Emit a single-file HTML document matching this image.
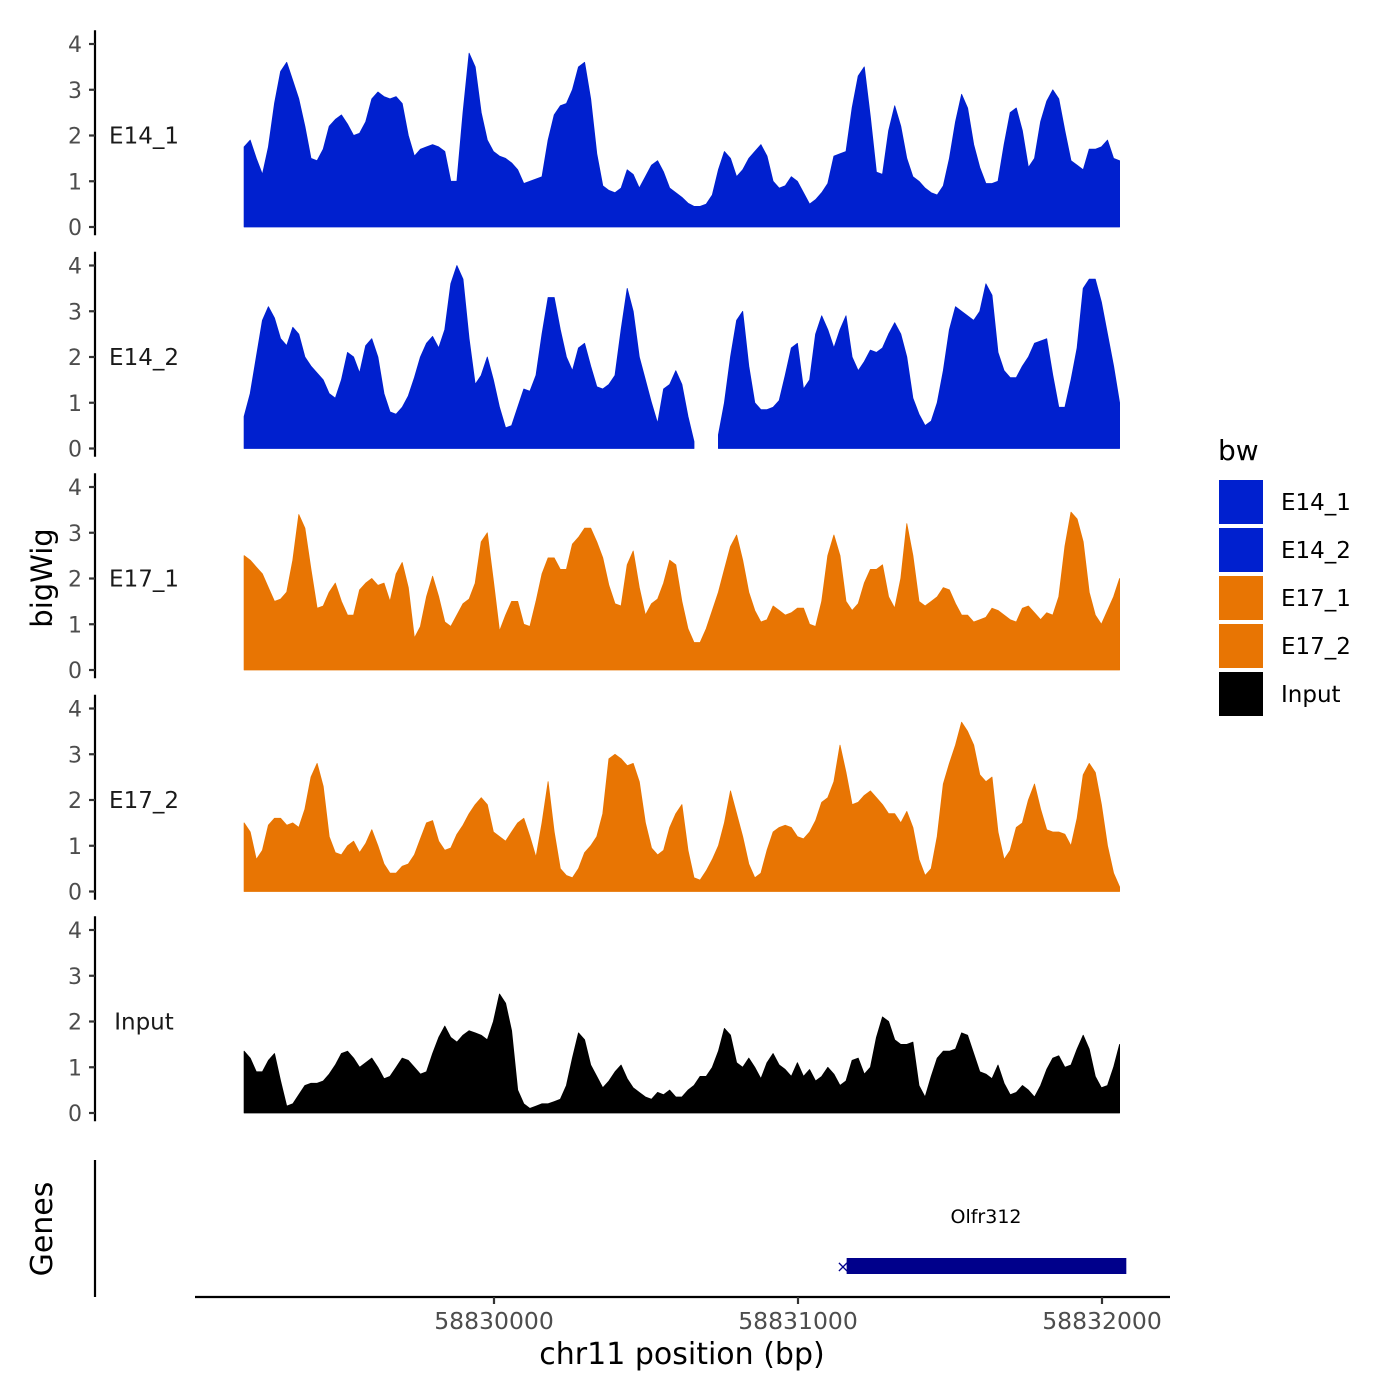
<!DOCTYPE html>
<html><head><meta charset="utf-8"><style>
html,body{margin:0;padding:0;background:#fff}
svg{display:block;font-family:"DejaVu Sans","Liberation Sans",sans-serif}
</style></head><body>
<svg id="chart" width="1400" height="1400" viewBox="0 0 1400 1400" xmlns="http://www.w3.org/2000/svg">
<rect width="1400" height="1400" fill="#fff"/>
<g id="tracks"></g>
<text x="52" y="578" transform="rotate(-90 52 578)" text-anchor="middle" font-size="29" fill="#000">bigWig</text>
<text x="52" y="1229" transform="rotate(-90 52 1229)" text-anchor="middle" font-size="30" fill="#000">Genes</text>
<line x1="95" y1="1160" x2="95" y2="1297" stroke="#000" stroke-width="2.2"/>
<g id="xaxis">
<line x1="195" y1="1297" x2="1170" y2="1297" stroke="#000" stroke-width="2.2"/>
</g>
<text x="682" y="1364" text-anchor="middle" font-size="30" fill="#000">chr11 position (bp)</text>
<g id="gene">
<text x="986" y="1223" text-anchor="middle" font-size="19" fill="#000">Olfr312</text>
</g>
<g id="legend">
<text x="1218" y="460" font-size="28" fill="#000">bw</text>
</g>
</svg>
<script>
const trackNames = ["E14_1","E14_2","E17_1","E17_2","Input"];
const trackColors = ["#0020CF","#0020CF","#E87503","#E87503","#000000"];
const xStart = 58829178;
const xStep = 20;
const yTicks = [0,1,2,3,4];
const xTicks = [58830000,58831000,58832000];
const xTickLabels = ["58830000","58831000","58832000"];
const geneStart = 58831160;
const geneEnd = 58832080;
const e14_1 = [1.75,1.9,1.5,1.15,1.75,2.7,3.4,3.6,3.2,2.8,2.2,1.5,1.45,1.7,2.2,2.35,2.45,2.25,2.0,2.05,2.3,2.8,2.95,2.85,2.8,2.85,2.7,2.0,1.55,1.7,1.75,1.8,1.75,1.65,1.0,1.0,2.5,3.8,3.5,2.5,1.9,1.65,1.55,1.5,1.4,1.25,0.95,1.0,1.05,1.1,1.9,2.45,2.65,2.7,3.0,3.5,3.6,2.8,1.6,0.9,0.8,0.75,0.85,1.25,1.15,0.85,1.1,1.35,1.45,1.2,0.85,0.75,0.65,0.52,0.45,0.45,0.5,0.7,1.25,1.65,1.5,1.1,1.25,1.5,1.65,1.8,1.55,1.0,0.85,0.9,1.1,1.0,0.75,0.5,0.6,0.75,0.95,1.55,1.6,1.65,2.6,3.3,3.5,2.4,1.2,1.15,2.1,2.65,2.2,1.5,1.1,1.0,0.85,0.75,0.7,0.9,1.5,2.3,2.9,2.6,1.8,1.3,0.95,0.95,1.0,1.8,2.5,2.6,2.1,1.3,1.5,2.3,2.75,3.0,2.8,2.1,1.45,1.35,1.25,1.7,1.7,1.75,1.9,1.5,1.45];
const e14_2 = [0.7,1.2,2.0,2.8,3.1,2.85,2.4,2.25,2.65,2.5,2.0,1.8,1.65,1.5,1.2,1.1,1.5,2.1,2.0,1.65,2.25,2.4,2.0,1.2,0.8,0.75,0.9,1.15,1.55,2.0,2.3,2.45,2.2,2.6,3.6,4.0,3.7,2.4,1.4,1.6,2.0,1.5,0.9,0.45,0.5,0.9,1.3,1.25,1.6,2.5,3.3,3.3,2.6,2.0,1.7,2.2,2.3,1.8,1.35,1.3,1.4,1.6,2.6,3.5,3.0,2.0,1.5,1.0,0.55,1.3,1.4,1.7,1.4,0.7,0.15,null,null,null,0.3,1.0,2.0,2.8,3.0,1.8,1.0,0.85,0.85,0.9,1.05,1.6,2.2,2.3,1.3,1.5,2.5,2.9,2.6,2.2,2.6,2.9,2.0,1.7,1.9,2.15,2.1,2.2,2.5,2.75,2.5,2.0,1.1,0.75,0.5,0.6,1.0,1.7,2.6,3.1,3.0,2.9,2.8,3.0,3.6,3.35,2.1,1.7,1.55,1.55,1.8,2.0,2.3,2.35,2.4,1.6,0.9,0.9,1.5,2.2,3.5,3.7,3.7,3.2,2.5,1.8,1.0];
const e17_1 = [2.5,2.4,2.25,2.1,1.8,1.5,1.55,1.7,2.4,3.4,3.1,2.2,1.35,1.4,1.7,1.9,1.5,1.2,1.2,1.75,1.9,2.0,1.85,1.9,1.5,2.1,2.35,1.8,0.7,0.95,1.6,2.05,1.6,1.05,0.95,1.2,1.45,1.55,1.9,2.8,3.0,1.95,0.85,1.2,1.5,1.5,1.0,0.95,1.5,2.1,2.45,2.45,2.2,2.2,2.75,2.9,3.1,3.1,2.8,2.45,1.85,1.45,1.4,2.3,2.6,1.8,1.2,1.45,1.55,1.9,2.4,2.3,1.5,0.9,0.6,0.6,0.9,1.3,1.7,2.2,2.7,2.95,2.4,1.7,1.3,1.05,1.1,1.4,1.3,1.2,1.25,1.35,1.35,1.0,0.95,1.5,2.5,2.95,2.5,1.5,1.3,1.45,1.9,2.2,2.2,2.3,1.6,1.35,2.0,3.2,2.5,1.5,1.4,1.5,1.6,1.8,1.75,1.45,1.2,1.2,1.05,1.1,1.15,1.35,1.3,1.2,1.1,1.05,1.35,1.4,1.25,1.1,1.25,1.2,1.6,2.7,3.45,3.3,2.8,1.7,1.2,1.0,1.3,1.6,2.0];
const e17_2 = [1.5,1.3,0.7,0.9,1.45,1.6,1.6,1.45,1.5,1.4,1.8,2.5,2.8,2.3,1.2,0.85,0.8,1.0,1.1,0.85,1.05,1.35,1.0,0.6,0.4,0.4,0.55,0.6,0.8,1.15,1.5,1.55,1.1,0.9,0.95,1.25,1.45,1.7,1.9,2.05,1.9,1.3,1.2,1.1,1.3,1.5,1.6,1.2,0.75,1.5,2.4,1.3,0.5,0.35,0.3,0.5,0.85,1.0,1.2,1.7,2.9,3.0,2.9,2.75,2.8,2.4,1.5,0.95,0.8,0.9,1.4,1.7,1.9,0.9,0.3,0.25,0.45,0.7,1.0,1.5,2.2,1.7,1.2,0.6,0.3,0.4,0.9,1.3,1.4,1.45,1.4,1.2,1.15,1.3,1.55,1.95,2.05,2.4,3.2,2.6,1.9,1.95,2.1,2.2,2.05,1.9,1.7,1.7,1.5,1.75,1.4,0.7,0.35,0.5,1.2,2.35,2.8,3.2,3.7,3.5,3.2,2.55,2.4,2.5,1.3,0.7,0.9,1.4,1.5,2.0,2.35,1.8,1.35,1.3,1.3,1.25,1.0,1.6,2.55,2.8,2.6,1.9,1.0,0.4,0.1];
const input = [1.35,1.2,0.9,0.9,1.15,1.3,0.7,0.15,0.2,0.4,0.6,0.65,0.65,0.7,0.85,1.05,1.3,1.35,1.2,1.0,1.1,1.2,1.0,0.75,0.8,1.0,1.2,1.15,1.0,0.85,0.9,1.3,1.65,1.9,1.65,1.55,1.7,1.8,1.75,1.7,1.6,2.0,2.6,2.4,1.8,0.5,0.2,0.1,0.15,0.2,0.2,0.25,0.3,0.6,1.2,1.75,1.6,1.05,0.8,0.55,0.7,0.9,1.05,0.75,0.55,0.45,0.35,0.3,0.45,0.4,0.5,0.35,0.35,0.5,0.6,0.8,0.8,1.0,1.35,1.85,1.7,1.1,1.0,1.2,1.0,0.75,1.1,1.3,1.05,0.95,0.8,1.1,0.8,0.95,0.7,0.8,1.0,0.85,0.6,0.7,1.15,1.2,0.85,1.0,1.65,2.1,2.0,1.6,1.5,1.5,1.55,0.6,0.35,0.8,1.2,1.35,1.35,1.4,1.75,1.7,1.3,0.9,0.85,0.75,1.05,0.65,0.4,0.45,0.6,0.5,0.35,0.6,0.95,1.2,1.25,1.0,1.05,1.4,1.7,1.4,0.8,0.55,0.6,1.0,1.5];
const trackData = [e14_1,e14_2,e17_1,e17_2,input];

const NS = "http://www.w3.org/2000/svg";
function xScale(bp){ return 494 + (bp - 58830000) * 0.304; }
function yScale(v, k){ return 227 + k * 221.5 - v * 45.75; }
function mk(tag, attrs, parent){
  const el = document.createElementNS(NS, tag);
  for (const a in attrs) el.setAttribute(a, attrs[a]);
  parent.appendChild(el);
  return el;
}
const tracks = document.getElementById('tracks');
trackData.forEach((vals, k) => {
  const g = mk('g', {}, tracks);
  
  
  const ax = mk('line', {x1:95, x2:95, y1:yScale(4.3,k), y2:yScale(-0.18,k), stroke:'#000', 'stroke-width':2.2}, g);
  
  
  yTicks.forEach(t => {
    const tk = mk('line', {x1:89, x2:95, y1:yScale(t,k), y2:yScale(t,k), stroke:'#333', 'stroke-width':2.2}, g);
    
    
    const tl = mk('text', {x:82, y:yScale(t,k)+8, 'text-anchor':'end', 'font-size':22, fill:'#4d4d4d'}, g);
    tl.textContent = t;
    
    
  });
  const lab = mk('text', {x:144, y: yScale(2,k)+8, 'text-anchor':'middle', 'font-size':23, fill:'#1a1a1a'}, g);
  lab.textContent = trackNames[k];
  
  
  let seg = [];
  const segs = [];
  vals.forEach((v, i) => {
    if (v === null) { if (seg.length) segs.push(seg); seg = []; }
    else seg.push([xStart + i * xStep, v]);
  });
  if (seg.length) segs.push(seg);
  segs.forEach(s => {
    let d = 'M' + xScale(s[0][0]).toFixed(1) + ',' + yScale(0,k).toFixed(1);
    s.forEach(p => { d += 'L' + xScale(p[0]).toFixed(1) + ',' + yScale(p[1],k).toFixed(1); });
    d += 'L' + xScale(s[s.length-1][0]).toFixed(1) + ',' + yScale(0,k).toFixed(1) + 'Z';
    const a = mk('path', {d:d, fill:trackColors[k], stroke:trackColors[k], 'stroke-width':0.8, 'stroke-linejoin':'round'}, g);
    
    
  });
});
const xa = document.getElementById('xaxis');
xTicks.forEach((t, i) => {
  const tk = mk('line', {x1:xScale(t), x2:xScale(t), y1:1297, y2:1304, stroke:'#333', 'stroke-width':2.2}, xa);
  
  
  const tl = mk('text', {x:xScale(t), y:1329, 'text-anchor':'middle', 'font-size':23.5, fill:'#4d4d4d'}, xa);
  tl.textContent = xTickLabels[i];
  
  
});
const gg = document.getElementById('gene');
const gr = mk('rect', {x:xScale(geneStart), y:1258, width:xScale(geneEnd)-xScale(geneStart), height:16, fill:'#00008B'}, gg);


const ga = mk('text', {x:xScale(geneStart)+3, y:1272, 'text-anchor':'end', 'font-size':16, fill:'#00008B'}, gg);
ga.textContent = '×';


const lg = document.getElementById('legend');
trackNames.forEach((n, i) => {
  const r = mk('rect', {x:1219, y:480 + i*48, width:44, height:44, fill:trackColors[i]}, lg);
  
  
  const t = mk('text', {x:1281, y:510 + i*48, 'font-size':23, fill:'#000'}, lg);
  t.textContent = n;
  
  
});
</script>
</body></html>
